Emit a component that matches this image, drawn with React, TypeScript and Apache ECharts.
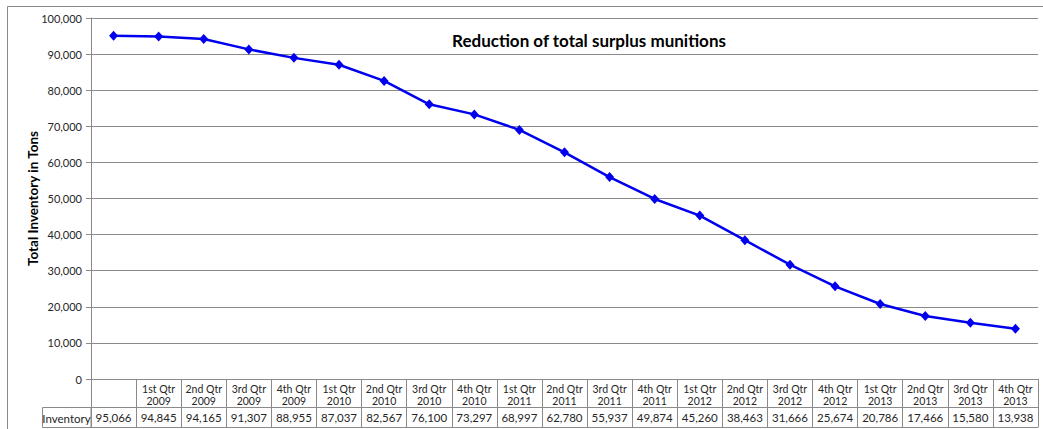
import React, { useEffect, useRef } from "react";
import * as echarts from "echarts";

const categories: string[] = [
  "",
  "1st Qtr\n2009", "2nd Qtr\n2009", "3rd Qtr\n2009", "4th Qtr\n2009",
  "1st Qtr\n2010", "2nd Qtr\n2010", "3rd Qtr\n2010", "4th Qtr\n2010",
  "1st Qtr\n2011", "2nd Qtr\n2011", "3rd Qtr\n2011", "4th Qtr\n2011",
  "1st Qtr\n2012", "2nd Qtr\n2012", "3rd Qtr\n2012", "4th Qtr\n2012",
  "1st Qtr\n2013", "2nd Qtr\n2013", "3rd Qtr\n2013", "4th Qtr\n2013",
];

const inventory: number[] = [
  95066, 94845, 94165, 91307, 88955, 87037, 82567, 76100, 73297, 68997, 62780,
  55937, 49874, 45260, 38463, 31666, 25674, 20786, 17466, 15580, 13938,
];

const seriesName = "Inventory";
const chartTitle = "Reduction of total surplus munitions";
const yAxisTitle = "Total Inventory in Tons";

const fmt = (v: number) => v.toLocaleString("en-US");

const FONT = "Lato, 'Open Sans', sans-serif";
const GRID = "#8a8a8a";
const TEXT = "#262626";

export default function App() {
  const ref = useRef<HTMLDivElement>(null);
  useEffect(() => {
    if (!ref.current) return;
    const chart = echarts.init(ref.current, undefined, { renderer: "svg" });
    chart.setOption({
      animation: false,
      backgroundColor: "#ffffff",
      textStyle: { fontFamily: FONT },
      title: {
        text: chartTitle,
        left: 584,
        top: 27,
        textAlign: "center",
        textStyle: { fontFamily: FONT, fontSize: 17, fontWeight: "bold", color: "#000" },
      },
      grid: { left: 91, right: 5, top: 18, bottom: 50, containLabel: false },
      xAxis: [
        {
          type: "category",
          data: categories,
          position: "bottom",
          boundaryGap: true,
          axisLine: { show: true, lineStyle: { color: GRID, width: 1 } },
          axisTick: { show: true, interval: 0, length: 28, lineStyle: { color: GRID } },
          axisLabel: {
            interval: 0,
            fontFamily: FONT,
            fontSize: 10.5,
            lineHeight: 12,
            color: TEXT,
            margin: 4,
          },
        },
        {
          type: "category",
          data: categories,
          position: "bottom",
          offset: 28,
          boundaryGap: true,
          axisLine: { show: true, lineStyle: { color: GRID, width: 1 } },
          axisTick: { show: true, interval: 0, length: 20, lineStyle: { color: GRID } },
          axisLabel: {
            interval: 0,
            fontFamily: FONT,
            fontSize: 11.5,
            color: TEXT,
            margin: 4,
            formatter: (_v: string, i: number) => fmt(inventory[i]),
          },
        },
        {
          type: "category",
          data: categories,
          position: "bottom",
          offset: 48,
          axisLine: { show: true, lineStyle: { color: GRID, width: 1 } },
          axisTick: { show: false },
          axisLabel: { show: false },
        },
      ],
      yAxis: {
        type: "value",
        min: 0,
        max: 100000,
        interval: 10000,
        name: yAxisTitle,
        nameLocation: "middle",
        nameGap: 51,
        nameMoveOverlap: false,
        nameTextStyle: { fontFamily: FONT, fontSize: 13.5, fontWeight: "bold", color: "#000" },
        axisLine: { show: true, lineStyle: { color: GRID, width: 1 } },
        axisTick: { show: true, length: 5, lineStyle: { color: GRID } },
        axisLabel: {
          fontFamily: FONT,
          fontSize: 11,
          color: TEXT,
          margin: 9,
          formatter: (v: number) => fmt(v),
        },
        splitLine: { show: true, lineStyle: { color: GRID, width: 1 } },
      },
      series: [
        {
          name: seriesName,
          type: "line",
          xAxisIndex: 0,
          data: inventory,
          symbol: "diamond",
          symbolSize: [9, 10],
          showSymbol: true,
          lineStyle: { color: "#0000ee", width: 2.5 },
          itemStyle: { color: "#0000ee" },
        },
      ],
      graphic: [
        {
          type: "rect",
          shape: { x: 7.5, y: 6.5, width: 1050, height: 440 },
          style: { fill: "none", stroke: GRID, lineWidth: 1 },
          silent: true,
          z: -1,
        },
        {
          type: "rect",
          shape: { x: 42.5, y: 407.5, width: 48.5, height: 20 },
          style: { fill: "none", stroke: GRID, lineWidth: 1 },
          silent: true,
        },
        {
          type: "text",
          x: 66.5,
          y: 418,
          style: {
            text: seriesName,
            fontFamily: FONT,
            fontSize: 11.5,
            fill: TEXT,
            align: "center",
            verticalAlign: "middle",
          },
        },
      ],
    });
    return () => chart.dispose();
  }, []);
  return (
    <div
      ref={ref}
      style={{ position: "fixed", left: 0, top: 0, width: 1043, height: 429 }}
    />
  );
}
